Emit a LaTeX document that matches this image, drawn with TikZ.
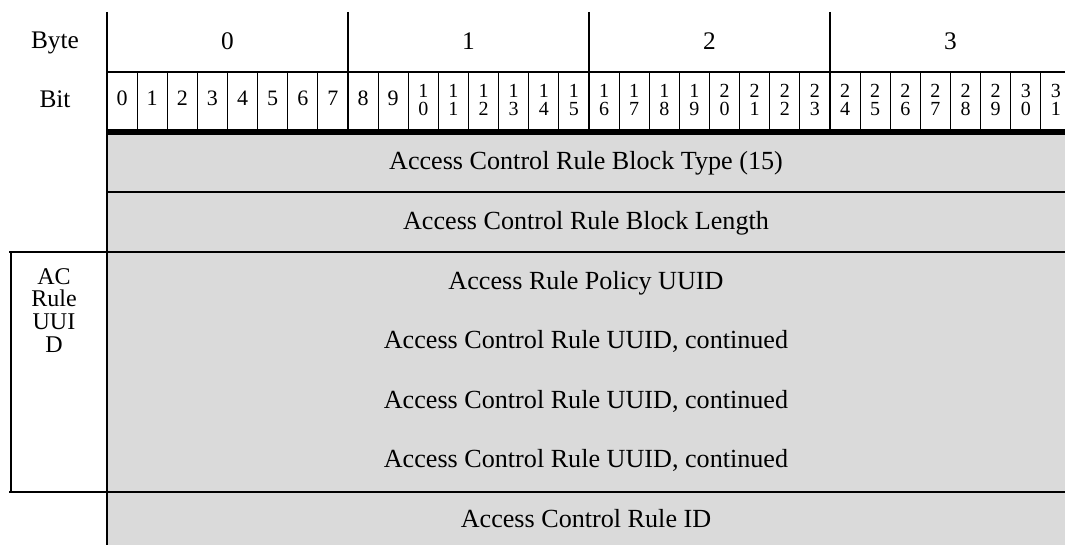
\documentclass[tikz,border=0pt]{standalone}
\usepackage{fontspec}
\setmainfont{Liberation Serif}
\definecolor{fieldgray}{RGB}{218,218,218}
\begin{document}
\begin{tikzpicture}[x=0.75pt,y=-0.75pt,
  rowtext/.style={inner sep=0pt, anchor=base, font=\fontsize{19.6}{23}\selectfont},
  headtext/.style={inner sep=0pt, anchor=base, font=\fontsize{19}{23}\selectfont},
  bitone/.style={inner sep=0pt, anchor=base, font=\fontsize{16.5}{18}\selectfont},
  bittwo/.style={inner sep=0pt, align=center, font=\fontsize{15}{13.5}\selectfont},
  sidetext/.style={inner sep=0pt, align=center, anchor=north, font=\fontsize{18}{17}\selectfont},
  thinline/.style={line width=0.8pt},
  medline/.style={line width=1.5pt},
  thickline/.style={line width=4.2pt},
]
\useasboundingbox (0,0) rectangle (1065,545);
% gray field area
\fill[fieldgray] (107,134) rectangle (1065,545);
% header labels
\node[headtext] (byte) at (55,49) {Byte};
\node[headtext] (bit) at (55,108) {Bit};
\foreach \b in {0,1,2,3}{
  \node[headtext] (byte\b) at ({107+241*(\b+0.5)},50) {\b};
}
% bit labels
\foreach \i in {0,...,9}{
  \node[bitone] (bit\i) at ({107+30.125*(\i+0.5)},106) {\i};
}
\foreach \i/\a/\c in {10/1/0,11/1/1,12/1/2,13/1/3,14/1/4,15/1/5,16/1/6,17/1/7,18/1/8,19/1/9,20/2/0,21/2/1,22/2/2,23/2/3,24/2/4,25/2/5,26/2/6,27/2/7,28/2/8,29/2/9,30/3/0,31/3/1}{
  \node[bittwo] (bit\i) at ({107+30.125*(\i+0.5)},99.5) {\a\\\c};
}
% bit dividers
\foreach \i in {1,...,31}{
  \draw[thinline] ({107+30.125*\i},72) -- ({107+30.125*\i},130);
}
% byte dividers
\foreach \b in {1,2,3}{
  \draw[medline] ({107+241*\b},12) -- ({107+241*\b},130);
}
% header horizontal line
\draw[medline] (107,72) -- (1065,72);
% thick line under bit row
\draw[thickline] (107,132) -- (1065,132);
% row lines
\draw[thinline] (107,192) -- (1065,192);
\draw[medline] (9,252) -- (1065,252);
\draw[medline] (9,492) -- (1065,492);
% AC box left side
\draw[medline] (10.5,252) -- (10.5,492);
% main left vertical line
\draw[medline] (107,12) -- (107,545);
% row texts
\node[rowtext] (type) at (586,170) {Access Control Rule Block Type (15)};
\node[rowtext] (len) at (586,229.5) {Access Control Rule Block Length};
\node[rowtext] (pol) at (586,289.5) {Access Rule Policy UUID};
\node[rowtext] (uuid1) at (586,349) {Access Control Rule UUID, continued};
\node[rowtext] (uuid2) at (586,408.5) {Access Control Rule UUID, continued};
\node[rowtext] (uuid3) at (586,468) {Access Control Rule UUID, continued};
\node[rowtext] (ruleid) at (586,527.5) {Access Control Rule ID};
% side label
\node[sidetext] (aclabel) at (54,268) {AC\\Rule\\UUI\\D};
\end{tikzpicture}
\end{document}
